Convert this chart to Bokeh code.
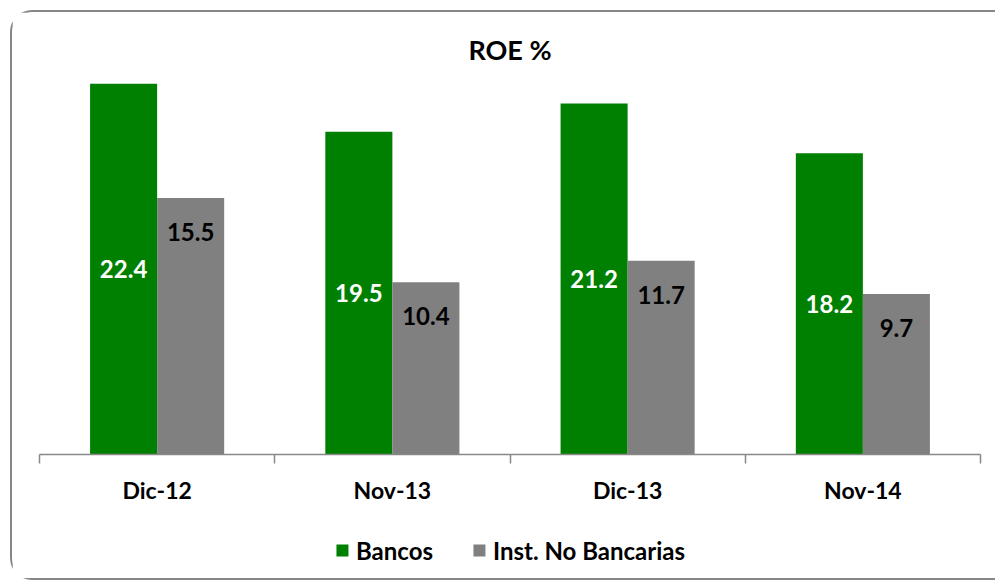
from bokeh.plotting import figure
from bokeh.layouts import column
from bokeh.models import ColumnDataSource, FixedTicker, Legend, LegendItem
from bokeh.transform import dodge
from bokeh.core.properties import value
from bokeh.embed import file_html
from bokeh.resources import INLINE

categories = ["Dic-12", "Nov-13", "Dic-13", "Nov-14"]
bancos = [22.4, 19.5, 21.2, 18.2]
no_bancarias = [15.5, 10.4, 11.7, 9.7]
series_names = ["Bancos", "Inst. No Bancarias"]

GREEN = "#008000"
GRAY = "#808080"
FONT = "Lato"

xc = [i + 0.5 for i in range(len(categories))]
src = ColumnDataSource(dict(
    x=xc,
    bancos=bancos,
    nob=no_bancarias,
    bl=[f"{v:.1f}" for v in bancos],
    nl=[f"{v:.1f}" for v in no_bancarias],
    by=[v / 2 for v in bancos],
    ny=[v - 2.05 for v in no_bancarias],
))

p = figure(width=985, height=510, x_range=(0, len(categories)), y_range=(0, 23.5),
           output_backend="svg", toolbar_location=None,
           min_border_left=27, min_border_right=17, min_border_top=53, min_border_bottom=68)
p.title.text = "ROE %"
p.title.align = "center"
p.title.text_font = FONT
p.title.text_font_size = "27px"
p.title.text_font_style = "bold"
p.title.text_color = "black"
p.title.standoff = 0

bw = 0.285
r1 = p.vbar(x=dodge("x", -bw / 2), top="bancos", width=bw, source=src,
            fill_color=GREEN, line_color=None)
r2 = p.vbar(x=dodge("x", bw / 2), top="nob", width=bw, source=src,
            fill_color=GRAY, line_color=None)

p.text(x=dodge("x", -bw / 2), y="by", text="bl", source=src, text_align="center",
       text_baseline="middle", text_color="white", text_font=value(FONT),
       text_font_size="24px", text_font_style="bold")
p.text(x=dodge("x", bw / 2), y="ny", text="nl", source=src, text_align="center",
       text_baseline="middle", text_color="black", text_font=value(FONT),
       text_font_size="24px", text_font_style="bold")

p.yaxis.visible = False
p.grid.visible = False
p.outline_line_color = None

ax = p.xaxis[0]
ax.ticker = FixedTicker(ticks=xc, minor_ticks=list(range(len(categories) + 1)))
ax.major_label_overrides = {x: c for x, c in zip(xc, categories)}
ax.major_tick_out = 0
ax.major_tick_in = 0
ax.minor_tick_out = 9
ax.minor_tick_in = 0
ax.axis_line_color = "#888888"
ax.axis_line_width = 1.5
ax.minor_tick_line_color = "#888888"
ax.minor_tick_line_width = 1.5
ax.major_label_text_font = FONT
ax.major_label_text_font_size = "23px"
ax.major_label_text_font_style = "bold"
ax.major_label_text_color = "black"
ax.major_label_standoff = 12

# legend holder (zero-height swatch renderers, only used for the legend)
p2 = figure(width=985, height=56, x_range=(0, 1), y_range=(0, 1),
            output_backend="svg", toolbar_location=None,
            min_border=0)
p2.axis.visible = False
p2.grid.visible = False
p2.outline_line_color = None
l1 = p2.vbar(x=[0.5], top=[0], width=0.1, fill_color=GREEN, line_color=None)
l2 = p2.vbar(x=[0.5], top=[0], width=0.1, fill_color=GRAY, line_color=None)
legend = Legend(items=[LegendItem(label=series_names[0], renderers=[l1]),
                       LegendItem(label=series_names[1], renderers=[l2])],
                orientation="horizontal", location="center",
                glyph_width=15, glyph_height=15, label_standoff=7, spacing=38,
                label_text_font=FONT, label_text_font_size="24px",
                label_text_font_style="bold", label_text_color="black",
                border_line_color=None, background_fill_alpha=0)
p2.add_layout(legend)

layout = column(p, p2, spacing=0)
layout.margin = (10, 0, 0, 10)
layout.styles = {"border-top": "2px solid #878787", "border-left": "2px solid #878787",
                 "border-bottom": "2px solid #878787",
                 "border-top-left-radius": "22px", "border-bottom-left-radius": "22px"}

open("out.html", "w").write(file_html(layout, INLINE))
